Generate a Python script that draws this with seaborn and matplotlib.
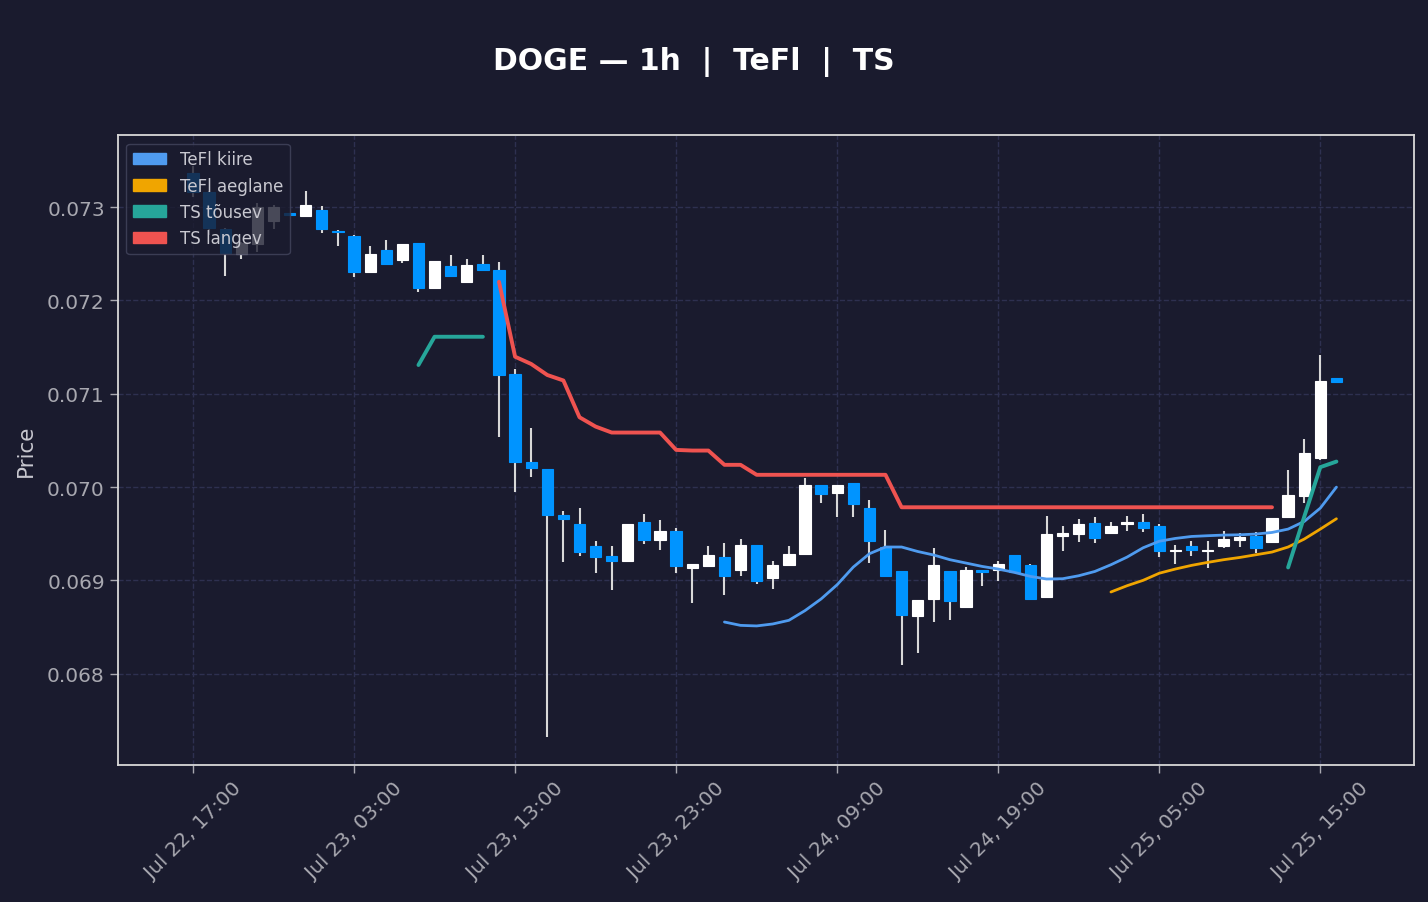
import matplotlib
matplotlib.use("Agg")
import pandas as pd
import matplotlib.pyplot as plt
import matplotlib.dates as mdates
from matplotlib.patches import Patch
from matplotlib.ticker import FormatStrFormatter
import seaborn as sns

START = "2023-07-22 17:00"

opens = [0.07337, 0.07316, 0.07277, 0.07250, 0.07260, 0.07285, 0.07294, 0.07291, 0.07297, 0.07275,
         0.07269, 0.07230, 0.07254, 0.07243, 0.07262, 0.07213, 0.07237, 0.07220, 0.07239, 0.07233,
         0.07121, 0.07027, 0.07019, 0.06970, 0.06960, 0.06937, 0.06926, 0.06921, 0.06963, 0.06943,
         0.06953, 0.06913, 0.06915, 0.06925, 0.06911, 0.06938, 0.06903, 0.06916, 0.06928, 0.07002,
         0.06994, 0.07004, 0.06977, 0.06936, 0.06910, 0.06862, 0.06880, 0.06910, 0.06871, 0.06911,
         0.06911, 0.06927, 0.06916, 0.06882, 0.06947, 0.06950, 0.06961, 0.06951, 0.06960, 0.06963,
         0.06958, 0.06931, 0.06937, 0.06931, 0.06937, 0.06943, 0.06947, 0.06941, 0.06968, 0.06990,
         0.07031, 0.07117]
highs = [0.07344, 0.07317, 0.07278, 0.07263, 0.07304, 0.07302, 0.07294, 0.07317, 0.07301, 0.07276,
         0.07270, 0.07258, 0.07265, 0.07261, 0.07262, 0.07242, 0.07249, 0.07244, 0.07249, 0.07241,
         0.07127, 0.07063, 0.07019, 0.06974, 0.06977, 0.06942, 0.06937, 0.06960, 0.06971, 0.06965,
         0.06956, 0.06918, 0.06937, 0.06940, 0.06944, 0.06938, 0.06921, 0.06937, 0.07010, 0.07002,
         0.07002, 0.07004, 0.06986, 0.06954, 0.06910, 0.06879, 0.06935, 0.06910, 0.06914, 0.06911,
         0.06921, 0.06927, 0.06917, 0.06969, 0.06958, 0.06966, 0.06968, 0.06963, 0.06969, 0.06971,
         0.06960, 0.06938, 0.06942, 0.06942, 0.06953, 0.06951, 0.06952, 0.06967, 0.07018, 0.07052,
         0.07142, 0.07117]
lows = [0.07311, 0.07270, 0.07226, 0.07244, 0.07252, 0.07277, 0.07292, 0.07290, 0.07272, 0.07258,
        0.07225, 0.07230, 0.07238, 0.07240, 0.07209, 0.07213, 0.07226, 0.07220, 0.07233, 0.07054,
        0.06995, 0.07011, 0.06732, 0.06920, 0.06926, 0.06908, 0.06890, 0.06921, 0.06939, 0.06932,
        0.06908, 0.06876, 0.06915, 0.06884, 0.06905, 0.06896, 0.06891, 0.06915, 0.06928, 0.06983,
        0.06968, 0.06968, 0.06919, 0.06904, 0.06809, 0.06822, 0.06855, 0.06857, 0.06871, 0.06894,
        0.06899, 0.06909, 0.06879, 0.06882, 0.06931, 0.06941, 0.06940, 0.06951, 0.06953, 0.06952,
        0.06925, 0.06917, 0.06926, 0.06913, 0.06935, 0.06936, 0.06929, 0.06941, 0.06968, 0.06983,
        0.07029, 0.07113]
closes = [0.07316, 0.07278, 0.07251, 0.07262, 0.07300, 0.07300, 0.07292, 0.07302, 0.07277, 0.07273,
          0.07231, 0.07250, 0.07239, 0.07261, 0.07213, 0.07242, 0.07226, 0.07238, 0.07233, 0.07120,
          0.07027, 0.07020, 0.06970, 0.06966, 0.06930, 0.06925, 0.06921, 0.06960, 0.06943, 0.06953,
          0.06915, 0.06918, 0.06927, 0.06905, 0.06938, 0.06899, 0.06916, 0.06928, 0.07002, 0.06992,
          0.07002, 0.06982, 0.06942, 0.06905, 0.06863, 0.06879, 0.06916, 0.06878, 0.06911, 0.06909,
          0.06917, 0.06909, 0.06880, 0.06950, 0.06951, 0.06960, 0.06945, 0.06958, 0.06963, 0.06956,
          0.06931, 0.06933, 0.06932, 0.06933, 0.06944, 0.06946, 0.06935, 0.06967, 0.06991, 0.07037,
          0.07114, 0.07113]

N = None
tefl_fast = [N] * 33 + [
    0.068553, 0.068517, 0.068511, 0.068532, 0.068571, 0.068675, 0.068800, 0.068953, 0.069142, 0.069285,
    0.069357, 0.069357, 0.069309, 0.069271, 0.069221, 0.069185, 0.069149, 0.069121, 0.069085, 0.069042,
    0.069014, 0.069017, 0.069049, 0.069095, 0.069167, 0.069249, 0.069349, 0.069419, 0.069449, 0.069470,
    0.069478, 0.069485, 0.069488, 0.069496, 0.069513, 0.069549, 0.069631, 0.069774, 0.069999]
tefl_slow = [N] * 57 + [
    0.068875, 0.068942, 0.069000, 0.069076, 0.069121, 0.069160, 0.069192, 0.069221, 0.069245, 0.069274,
    0.069303, 0.069357, 0.069442, 0.069549, 0.069660]
ts_up = [N] * 14 + [0.071308, 0.071611, 0.071611, 0.071611, 0.071611] + [N] * 49 + [
    0.069138, 0.069681, 0.070213, 0.070273]
ts_down = [N] * 19 + [
    0.072200, 0.071397, 0.071319, 0.071201, 0.071142, 0.070748, 0.070648, 0.070584, 0.070584, 0.070584,
    0.070584, 0.070398, 0.070391, 0.070391, 0.070238, 0.070238, 0.070131, 0.070131, 0.070131, 0.070131,
    0.070131, 0.070131, 0.070131, 0.070131, 0.070131] + [0.069783] * 24 + [N] * 4

BG = "#1a1b2e"
UP_COL = "#ffffff"
DOWN_COL = "#0094ff"
WICK_COL = "#d8d8d8"
FAST_COL = "#4f9bef"
SLOW_COL = "#f0a500"
TSUP_COL = "#26a69a"
TSDN_COL = "#ef5350"

times = pd.date_range(START, periods=len(opens), freq="h")
df = pd.DataFrame({"time": times, "open": opens, "high": highs, "low": lows, "close": closes,
                   "fast": tefl_fast, "slow": tefl_slow, "ts_up": ts_up, "ts_down": ts_down})
for c in ["fast", "slow", "ts_up", "ts_down"]:
    df[c] = pd.to_numeric(df[c])

sns.set_theme(style="dark")
plt.rcParams["font.family"] = ["DejaVu Sans"]

fig, ax = plt.subplots(figsize=(14.28, 9.03), dpi=100)
fig.patch.set_facecolor(BG)
ax.set_facecolor(BG)
fig.subplots_adjust(left=0.0826, right=0.990, top=0.849, bottom=0.1517)

# candles
width = 0.7 / 24
up = df["close"] >= df["open"]
colors = [UP_COL if u else DOWN_COL for u in up]
ax.vlines(df["time"], df["low"], df["high"], color=WICK_COL, linewidth=1.5, zorder=2)
ax.bar(df["time"], df["close"] - df["open"], bottom=df["open"], width=width,
       color=colors, edgecolor=colors, linewidth=0.8, zorder=3)


def plot_segments(col, color, lw):
    # draw each contiguous run separately so gaps stay open
    run_id = df[col].isna().cumsum()
    for _, seg in df[df[col].notna()].groupby(run_id[df[col].notna()]):
        sns.lineplot(data=seg, x="time", y=col, ax=ax, color=color, linewidth=lw, zorder=4)


plot_segments("fast", FAST_COL, 2.0)
plot_segments("slow", SLOW_COL, 2.0)
plot_segments("ts_up", TSUP_COL, 2.8)
plot_segments("ts_down", TSDN_COL, 2.8)

ax.set_xlim(times[0] - pd.Timedelta(hours=4.66), times[0] + pd.Timedelta(hours=75.8))
ax.set_ylim(0.06702, 0.07377)
ax.set_xticks(pd.date_range(START, periods=8, freq="10h"))
ax.xaxis.set_major_formatter(mdates.DateFormatter("%b %d, %H:%M"))
ax.yaxis.set_major_formatter(FormatStrFormatter("%.3f"))
plt.setp(ax.get_xticklabels(), rotation=45, ha="center")

ax.grid(True, linestyle="--", color="#2e3050", linewidth=1.0)
ax.tick_params(colors="#a8a8b0", labelsize=14.5, length=6, width=1, bottom=True, left=True)
for s in ax.spines.values():
    s.set_color("#d8d8d8")
    s.set_linewidth(1.3)

ax.set_xlabel("")
ax.set_ylabel("Price", color="#c8c8d0", fontsize=15.5, labelpad=8)
fig.text(0.486, 0.931, "DOGE \u2014 1h  |  TeFl  |  TS", color="white",
         fontsize=21.5, fontweight="bold", ha="center", va="center")

handles = [Patch(color=FAST_COL, label="TeFl kiire"),
           Patch(color=SLOW_COL, label="TeFl aeglane"),
           Patch(color=TSUP_COL, label="TS t\u00f5usev"),
           Patch(color=TSDN_COL, label="TS langev")]
leg = ax.legend(handles=handles, loc="upper left", fontsize=12, facecolor=BG,
                edgecolor="#44465e", framealpha=0.8, labelcolor="#c8c8d0")

plt.savefig("out.png", dpi=100, facecolor=BG)
plt.close()
